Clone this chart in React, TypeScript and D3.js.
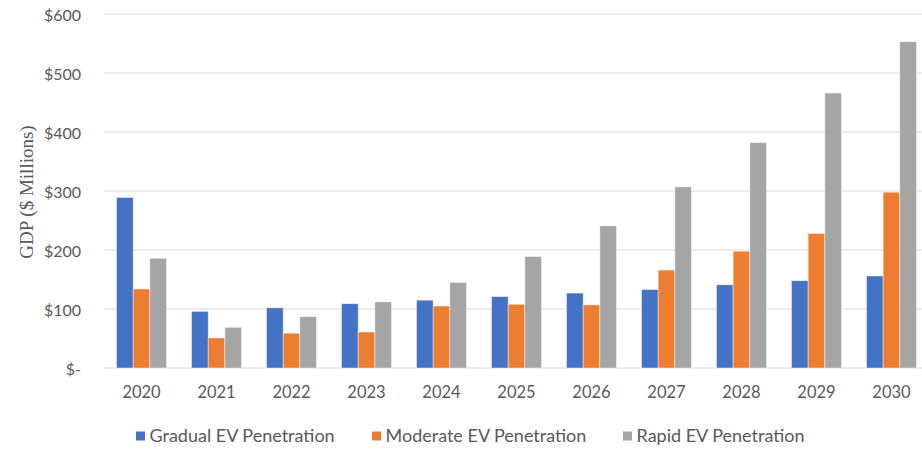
import * as d3 from 'd3';
import { useEffect, useRef } from 'react';

const years = ['2020', '2021', '2022', '2023', '2024', '2025', '2026', '2027', '2028', '2029', '2030'];
const seriesNames = ['Gradual EV Penetration', 'Moderate EV Penetration', 'Rapid EV Penetration'];
const gradual = [289, 96, 102, 109, 115, 121, 127, 133, 141, 148, 156];
const moderate = [134, 51, 59, 61, 105, 108, 107, 166, 198, 228, 298];
const rapid = [186, 69, 87, 112, 145, 189, 241, 307, 382, 466, 553];
const yTicks = [0, 100, 200, 300, 400, 500, 600];

const colors = ['#4472C4', '#ED7D31', '#A5A5A5'];

const width = 922;
const height = 449;
const labelFont = 'Lato, "Open Sans", Arial, sans-serif';

const App = () => {
  const ref = useRef<SVGSVGElement | null>(null);

  useEffect(() => {
    if (!ref.current) return;
    const svg = d3.select(ref.current);
    svg.selectAll('*').remove();

    const values = [gradual, moderate, rapid];

    const x0 = d3
      .scaleBand()
      .domain(years)
      .range([104, 929])
      .paddingInner(0.333)
      .paddingOuter(0.167);

    const x1 = d3
      .scaleBand()
      .domain(seriesNames)
      .range([0, x0.bandwidth()]);

    const y = d3.scaleLinear().domain([0, 600]).range([368, 14]);

    // gridlines
    svg
      .append('g')
      .selectAll('line')
      .data(yTicks)
      .join('line')
      .attr('x1', 104)
      .attr('x2', width)
      .attr('y1', (d) => y(d))
      .attr('y2', (d) => y(d))
      .attr('stroke', '#d9d9d9')
      .attr('stroke-width', 1);

    // y tick labels
    svg
      .append('g')
      .selectAll('text')
      .data(yTicks)
      .join('text')
      .attr('x', 81)
      .attr('y', (d) => y(d) + 1)
      .attr('dy', '0.35em')
      .attr('text-anchor', 'end')
      .attr('font-family', labelFont)
      .attr('font-size', 16)
      .attr('fill', '#595959')
      .text((d) => (d === 0 ? '$-' : `$${d}`));

    // bars
    const groups = svg
      .append('g')
      .selectAll('g')
      .data(years)
      .join('g')
      .attr('transform', (d) => `translate(${x0(d)},0)`);

    groups
      .selectAll('rect')
      .data((d, i) => seriesNames.map((s, j) => ({ s, j, v: values[j][i] })))
      .join('rect')
      .attr('x', (d) => x1(d.s)!)
      .attr('y', (d) => y(d.v))
      .attr('width', x1.bandwidth())
      .attr('height', (d) => y(0) - y(d.v))
      .attr('fill', (d) => colors[d.j])
      .attr('stroke', '#ffffff')
      .attr('stroke-opacity', 0.6)
      .attr('stroke-width', 0.75);

    // x labels
    svg
      .append('g')
      .selectAll('text')
      .data(years)
      .join('text')
      .attr('x', (d) => x0(d)! + x0.bandwidth() / 2)
      .attr('y', 392)
      .attr('dy', '0.35em')
      .attr('text-anchor', 'middle')
      .attr('font-family', labelFont)
      .attr('font-size', 16.5)
      .attr('fill', '#595959')
      .text((d) => d);

    // y axis title
    svg
      .append('text')
      .attr('transform', `translate(26.5,192) rotate(-90)`)
      .attr('dy', '0.35em')
      .attr('text-anchor', 'middle')
      .attr('font-family', '"Liberation Serif", "DejaVu Serif", serif')
      .attr('font-size', 19)
      .attr('fill', '#595959')
      .text('GDP ($ Millions)');

    // legend
    const legendX = [136, 372, 623];
    const legend = svg
      .append('g')
      .selectAll('g')
      .data(seriesNames)
      .join('g')
      .attr('transform', (d, i) => `translate(${legendX[i]},436)`);

    legend
      .append('rect')
      .attr('x', 0)
      .attr('y', -4.5)
      .attr('width', 9)
      .attr('height', 9)
      .attr('fill', (d, i) => colors[i]);

    legend
      .append('text')
      .attr('x', 13.5)
      .attr('y', 0)
      .attr('dy', '0.35em')
      .attr('font-family', labelFont)
      .attr('font-size', 18)
      .attr('fill', '#595959')
      .text((d) => d);
  }, []);

  return (
    <svg
      ref={ref}
      width={width}
      height={height}
      style={{ position: 'absolute', left: 0, top: 0, background: '#fff' }}
    />
  );
};

export default App;
